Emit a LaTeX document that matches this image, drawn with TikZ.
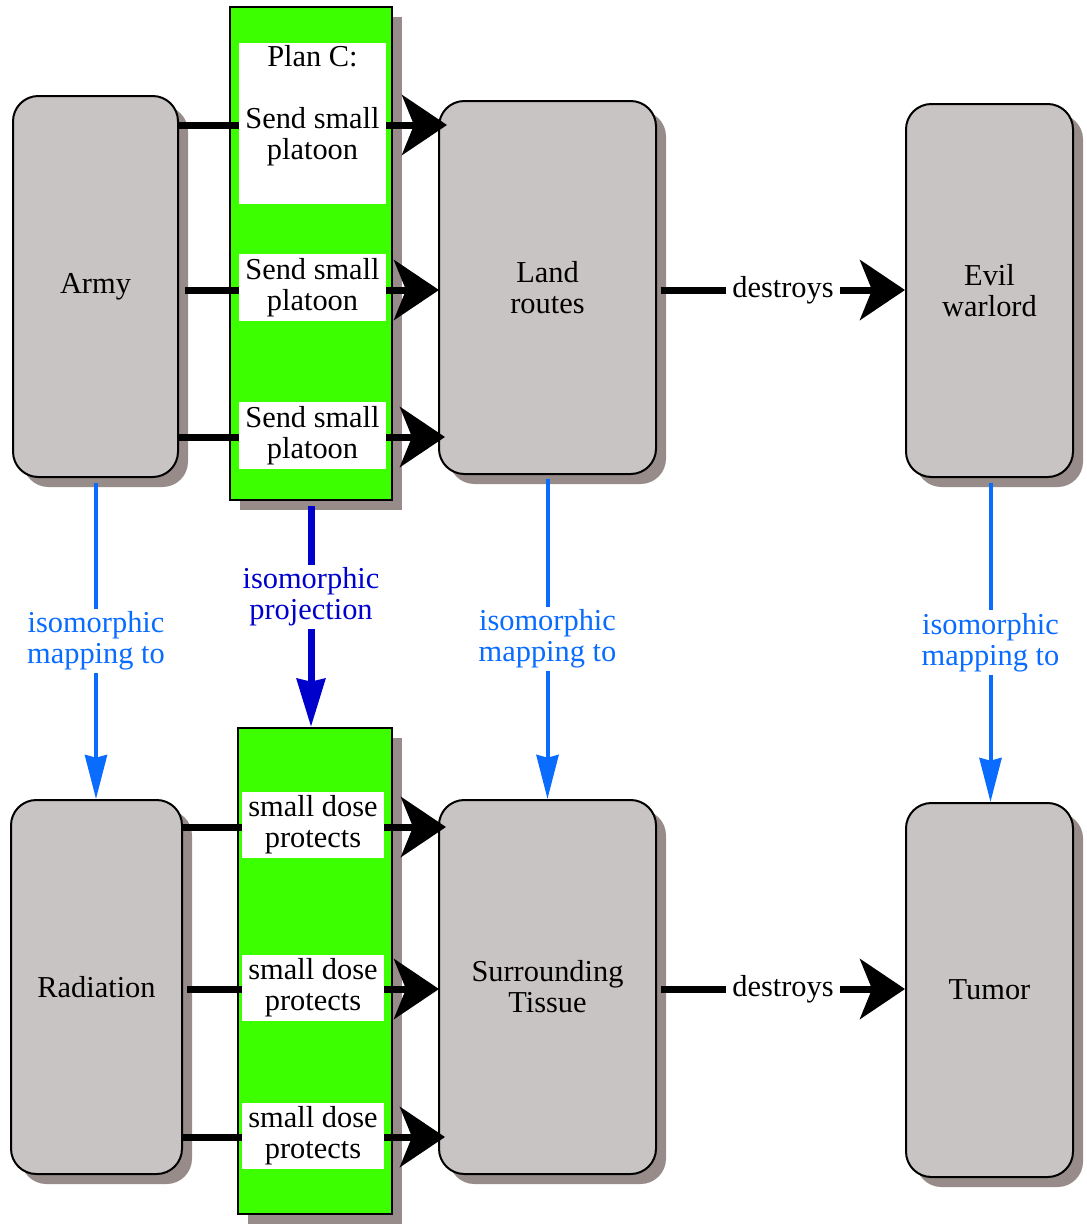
\documentclass[tikz,border=0pt]{standalone}
\usepackage{fontspec}
\setmainfont{Liberation Serif}
\usetikzlibrary{arrows.meta,shadows,calc}
\definecolor{boxgray}{HTML}{C8C4C3}
\definecolor{shadowgray}{HTML}{978C8A}
\definecolor{plangreen}{HTML}{3CFF00}
\definecolor{mapblue}{HTML}{0A6CFF}
\definecolor{projblue}{HTML}{0000CC}
\begin{document}
\begin{tikzpicture}[x=0.75pt,y=-0.75pt,
  every node/.style={font=\fontsize{22.8}{23.3}\selectfont, align=center},
  sized/.style 2 args={minimum width=#1*0.75pt, minimum height=#2*0.75pt},
  boxshadow/.style={general shadow={fill=shadowgray, shadow xshift=7.5pt, shadow yshift=-7.5pt}},
  graybox/.style={draw=black, line width=1.5pt, fill=boxgray, rounded corners=19pt, boxshadow, inner sep=0pt},
  greenbox/.style={draw=black, line width=1.5pt, fill=plangreen, boxshadow, inner sep=0pt},
  whitebox/.style={fill=white, inner sep=0pt},
  conn/.style={line width=5.25pt, -{Stealth[length=33.75pt, width=45pt, inset=9pt]}},
  mapar/.style={draw=mapblue, line width=3pt, -{Stealth[length=33pt, width=16.5pt, inset=2pt]}},
  projar/.style={draw=projblue, line width=5.25pt, -{Stealth[length=36pt, width=21pt, inset=2pt]}},
  maplabel/.style={fill=white, text=mapblue, inner xsep=2pt, inner ysep=2pt},
  projlabel/.style={fill=white, text=projblue, inner xsep=2pt, inner ysep=2pt},
  destlabel/.style={fill=white, inner xsep=5pt, inner ysep=2pt}
]
\useasboundingbox (0,0) rectangle (1086,1224);

% gray boxes
\node[graybox, sized={165}{381}] (army) at (95.5,286.5) {Army};
\node[graybox, sized={217}{373}] (land) at (547.5,287.5) {Land\\routes};
\node[graybox, sized={167}{373}] (evil) at (989.5,290.5) {Evil\\warlord};
\node[graybox, sized={171}{374}] (rad) at (96.5,987) {Radiation};
\node[graybox, sized={217}{374}] (tissue) at (547.5,987) {Surrounding\\Tissue};
\node[graybox, sized={167}{374}] (tumor) at (989.5,990) {Tumor};

% green plan boxes
\node[greenbox, sized={162}{493}] (planA) at (311,253.5) {};
\node[greenbox, sized={154}{486}] (planB) at (315,971) {};

% black connectors (top)
\draw[conn] (army.east |- 0,125) -- ($(land.west |- 0,125)+(9,0)$);
\draw[conn] ($(army.east |- 0,290)+(6,0)$) -- ($(land.west |- 0,290)+(1,0)$);
\draw[conn] (army.east |- 0,437) -- ($(land.west |- 0,437)+(7,0)$);
% black connectors (bottom)
\draw[conn] (rad.east |- 0,827) -- ($(tissue.west |- 0,827)+(8,0)$);
\draw[conn] ($(rad.east |- 0,989)+(4,0)$) -- ($(tissue.west |- 0,989)+(1,0)$);
\draw[conn] (rad.east |- 0,1137) -- ($(tissue.west |- 0,1137)+(7,0)$);

% white label boxes (top)
\node[whitebox, sized={147}{161}] (w1) at (312.5,123.5) {};
\node (plantext) at (312.5,106) {Plan C:\\[23.3pt]Send small\\platoon};
\node[whitebox, sized={147}{67}] (w2) at (312.5,287.5) {Send small\\platoon};
\node[whitebox, sized={147}{67}] (w3) at (312.5,435.5) {Send small\\platoon};
% white label boxes (bottom)
\node[whitebox, sized={142}{66}] (b1) at (313,825) {small dose\\protects};
\node[whitebox, sized={142}{66}] (b2) at (313,988) {small dose\\protects};
\node[whitebox, sized={142}{66}] (b3) at (313,1136) {small dose\\protects};

% destroys
\draw[conn] ($(land.east |- 0,290)+(4,0)$) -- (evil.west |- 0,290)
  node[destlabel, pos=0.5] (d1) {destroys};
\draw[conn] ($(tissue.east |- 0,989)+(4,0)$) -- (tumor.west |- 0,989)
  node[destlabel, pos=0.5] (d2) {destroys};

% isomorphic mappings
\draw[mapar] ($(army.south)+(0.5,5)$) -- ($(rad.north)+(-0.5,0)$)
  node[maplabel, midway] (m1) {isomorphic\\mapping to};
\draw[mapar] ($(land.south)+(0,4)$) -- (tissue.north)
  node[maplabel, midway] (m2) {isomorphic\\mapping to};
\draw[mapar] ($(evil.south)+(1,5)$) -- ($(tumor.north)+(1,0)$)
  node[maplabel, midway] (m3) {isomorphic\\mapping to};
% projection
\draw[projar] ($(planA.south)+(0,5)$) -- (planA.south |- planB.north)
  node[projlabel, pos=0.41] (p1) {isomorphic\\projection};
\end{tikzpicture}
\end{document}
